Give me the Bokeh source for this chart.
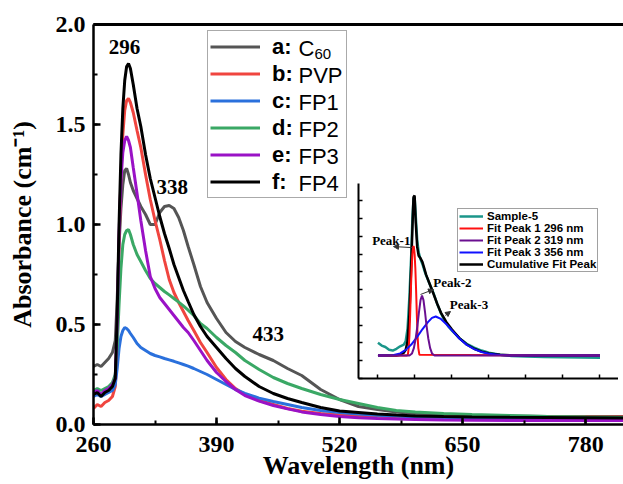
from bokeh.plotting import figure
from bokeh.layouts import column
from bokeh.models import (Legend, LegendItem, LinearAxis, FixedTicker, SingleIntervalTicker,
                          Range1d, Arrow, NormalHead, PrintfTickFormatter, CustomJSTickFormatter)
from bokeh.core.properties import value
from bokeh.embed import file_html
from bokeh.resources import INLINE

# ---------------- main data ----------------
wl = [260, 264, 268, 272, 276, 280, 283, 285, 287, 289, 291, 293, 295, 297, 299, 302, 306, 310,
      315, 320, 325, 330, 335, 340, 345, 350, 355, 360, 366, 373, 380, 390, 400, 410, 420, 435,
      450, 465, 480, 500, 520, 540, 560, 580, 600, 630, 660, 700, 740, 780, 820]

c60 = [0.29, 0.30, 0.29, 0.31, 0.33, 0.36, 0.42, 0.62, 0.90, 1.08, 1.20, 1.27, 1.28, 1.25, 1.21, 1.17,
       1.13, 1.09, 1.05, 1.00, 1.00, 1.06, 1.09, 1.095, 1.08, 1.035, 0.97, 0.89, 0.80, 0.69, 0.61,
       0.53, 0.46, 0.415, 0.385, 0.35, 0.32, 0.28, 0.245, 0.175, 0.125, 0.09, 0.075, 0.062, 0.055,
       0.048, 0.045, 0.042, 0.040, 0.040, 0.040]
pvp = [0.08, 0.10, 0.09, 0.11, 0.12, 0.14, 0.19, 0.45, 0.90, 1.25, 1.45, 1.57, 1.62, 1.63, 1.61, 1.56,
       1.47, 1.385, 1.25, 1.125, 1.02, 0.925, 0.82, 0.725, 0.66, 0.61, 0.565, 0.52, 0.47, 0.41, 0.36,
       0.285, 0.225, 0.18, 0.15, 0.12, 0.10, 0.08, 0.066, 0.055, 0.048, 0.044, 0.041, 0.039, 0.038,
       0.037, 0.037, 0.037, 0.038, 0.038, 0.038]
fp1 = [0.14, 0.15, 0.14, 0.15, 0.16, 0.17, 0.20, 0.28, 0.38, 0.44, 0.47, 0.485, 0.48, 0.47, 0.455,
       0.435, 0.405, 0.385, 0.37, 0.355, 0.345, 0.338, 0.33, 0.323, 0.316, 0.308, 0.30, 0.292, 0.28,
       0.265, 0.25, 0.225, 0.20, 0.175, 0.155, 0.132, 0.115, 0.10, 0.085, 0.07, 0.06, 0.052, 0.046,
       0.042, 0.038, 0.035, 0.033, 0.031, 0.030, 0.030, 0.030]
fp2 = [0.17, 0.18, 0.17, 0.18, 0.19, 0.21, 0.25, 0.38, 0.60, 0.78, 0.90, 0.95, 0.97, 0.975, 0.95, 0.90,
       0.85, 0.815, 0.77, 0.73, 0.705, 0.685, 0.665, 0.648, 0.63, 0.612, 0.593, 0.572, 0.545, 0.505,
       0.48, 0.435, 0.395, 0.36, 0.32, 0.275, 0.235, 0.205, 0.18, 0.15, 0.125, 0.105, 0.085, 0.07,
       0.062, 0.055, 0.05, 0.045, 0.04, 0.037, 0.035]
fp3 = [0.16, 0.17, 0.15, 0.17, 0.18, 0.20, 0.23, 0.50, 0.95, 1.22, 1.36, 1.42, 1.44, 1.42, 1.385,
       1.285, 1.155, 1.02, 0.87, 0.74, 0.68, 0.635, 0.605, 0.575, 0.545, 0.515, 0.485, 0.46, 0.42,
       0.37, 0.32, 0.26, 0.215, 0.175, 0.145, 0.117, 0.095, 0.078, 0.063, 0.05, 0.04, 0.034, 0.03,
       0.027, 0.025, 0.022, 0.021, 0.02, 0.02, 0.02, 0.02]
fp4 = [0.15, 0.16, 0.14, 0.16, 0.17, 0.19, 0.23, 0.55, 1.00, 1.35, 1.58, 1.72, 1.79, 1.805, 1.78, 1.70,
       1.58, 1.49, 1.35, 1.23, 1.135, 1.04, 0.955, 0.88, 0.80, 0.735, 0.67, 0.615, 0.55, 0.49, 0.44,
       0.385, 0.33, 0.28, 0.24, 0.19, 0.155, 0.13, 0.11, 0.085, 0.068, 0.06, 0.052, 0.047, 0.043,
       0.04, 0.038, 0.036, 0.035, 0.034, 0.033]

series_keys = ["a:", "b:", "c:", "d:", "e:", "f:"]
series_names = ["C", "PVP", "FP1", "FP2", "FP3", "FP4"]
series_vals = [c60, pvp, fp1, fp2, fp3, fp4]
series_colors = ["#555555", "#f0453f", "#2a70dc", "#3aa865", "#9a12c6", "#000000"]

peak_text = ["296", "338", "433"]
peak_wl = [296, 338, 433]
peak_label_y = [1.89, 1.19, 0.455]
peak_dx = [-3, 5, 11]

# ---------------- inset data ----------------
s5_x = [200, 210, 220, 230, 240, 250, 260, 270, 275, 280, 285, 290, 293, 296, 299, 302, 306, 310, 315,
        320, 325, 330, 340, 350, 360, 370, 380, 390, 400, 420, 440, 460, 480, 500, 530, 560, 600,
        650, 700, 750, 800]
s5_y = [0.50, 0.42, 0.38, 0.30, 0.28, 0.33, 0.40, 0.45, 0.55, 0.90, 1.80, 3.00, 4.00, 4.55, 4.60, 4.10,
        3.40, 3.05, 2.85, 2.72, 2.55, 2.40, 2.15, 1.90, 1.60, 1.33, 1.12, 0.96, 0.84, 0.63, 0.47,
        0.36, 0.28, 0.22, 0.16, 0.13, 0.11, 0.10, 0.09, 0.085, 0.08]
cum_x = [200, 250, 260, 270, 275, 280, 285, 290, 293, 296, 299, 302, 306, 310, 315, 320, 325, 330,
         340, 350, 360, 370, 385, 400, 420, 440, 460, 480, 500, 530, 560, 600, 800]
cum_y = [0.14, 0.14, 0.16, 0.22, 0.30, 0.55, 1.30, 2.70, 3.70, 4.60, 4.65, 3.90, 3.20, 2.95, 2.88,
         2.78, 2.60, 2.42, 2.15, 1.88, 1.60, 1.35, 1.08, 0.87, 0.63, 0.45, 0.33, 0.25, 0.20, 0.16,
         0.145, 0.14, 0.14]
p1_x = [200, 278, 281, 283, 285, 287, 289, 291, 293, 295, 296, 297, 299, 301, 303, 305, 307, 309, 312, 800]
p1_y = [0.14, 0.14, 0.17, 0.35, 0.70, 1.30, 2.00, 2.60, 3.00, 3.20, 3.22, 3.20, 3.00, 2.60, 2.00,
        1.30, 0.70, 0.35, 0.16, 0.14]
p2_x = [200, 285, 292, 297, 302, 307, 311, 315, 319, 323, 327, 331, 336, 341, 346, 353, 800]
p2_y = [0.14, 0.14, 0.20, 0.35, 0.62, 1.00, 1.38, 1.70, 1.83, 1.70, 1.38, 1.00, 0.62, 0.35, 0.20, 0.14, 0.14]
p3_x = [200, 240, 260, 275, 290, 305, 320, 335, 346, 356, 370, 385, 400, 420, 440, 460, 480, 500, 530, 560, 600, 800]
p3_y = [0.14, 0.15, 0.20, 0.30, 0.45, 0.65, 0.88, 1.08, 1.20, 1.24, 1.17, 1.02, 0.85, 0.62, 0.44,
        0.32, 0.24, 0.19, 0.155, 0.143, 0.14, 0.14]
inset_labels = ["Sample-5", "Fit Peak 1 296 nm", "Fit Peak 2 319 nm", "Fit Peak 3 356 nm",
                "Cumulative Fit Peak"]
inset_colors = ["#1b968a", "#ff1010", "#6a0f90", "#1010ff", "#000000"]
ann_text = ["Peak-1", "Peak-2", "Peak-3"]
ann_x = [236, 401, 446]
ann_y = [3.39, 2.2, 1.58]
arrow_start = [(293, 3.18), (315, 1.86), (382, 1.27)]
arrow_end = [(242, 3.21), (350, 2.00), (396, 1.38)]

SERIF = "Liberation Serif"
SANS = "Liberation Sans"

# ---------------- main figure ----------------
p = figure(width=623, height=484, x_range=Range1d(260, 820), y_range=Range1d(0, 2.0),
           output_backend="svg", toolbar_location=None,
           min_border_left=93, min_border_top=24, min_border_right=0, min_border_bottom=60)
p.xgrid.visible = False
p.ygrid.visible = False
p.outline_line_color = None
p.background_fill_color = "white"

p.xaxis.ticker = SingleIntervalTicker(interval=130, num_minor_ticks=2)
p.yaxis.ticker = SingleIntervalTicker(interval=0.5, num_minor_ticks=2)
p.yaxis.formatter = PrintfTickFormatter(format="%.1f")
p.xaxis.axis_label = "Wavelength (nm)"
p.yaxis.axis_label = "Absorbance (cm\u207b\u00b9)"
for ax in (p.xaxis[0], p.yaxis[0]):
    ax.axis_line_width = 2.5
    ax.axis_line_color = "black"
    ax.major_tick_line_width = 2.5
    ax.minor_tick_line_width = 2
    ax.major_tick_in = 7
    ax.major_tick_out = 0
    ax.minor_tick_in = 4
    ax.minor_tick_out = 0
    ax.major_label_text_font = SERIF
    ax.major_label_text_font_style = "bold"
    ax.major_label_text_font_size = "24px"
    ax.major_label_text_color = "black"
    ax.axis_label_text_font = SERIF
    ax.axis_label_text_font_style = "bold"
    ax.axis_label_text_font_size = "26px"
    ax.axis_label_text_color = "black"
p.xaxis.major_label_standoff = 12
p.xaxis.axis_label_standoff = -4
p.yaxis.major_label_standoff = 8
p.yaxis.axis_label_standoff = 16

top_axis = LinearAxis(ticker=FixedTicker(ticks=[]), axis_line_width=3, axis_line_color="black",
                      major_tick_in=0, major_tick_out=0, minor_tick_in=0, minor_tick_out=0,
                      major_label_standoff=0)
p.add_layout(top_axis, "above")

renderers = []
for vals, col in zip(series_vals, series_colors):
    r = p.line(wl, vals, line_color=col, line_width=3)
    renderers.append(r)

p.text(x=peak_wl, y=peak_label_y, text=peak_text, x_offset=peak_dx,
       text_font=value(SERIF), text_font_style="bold", text_font_size="21px",
       text_align="center", text_baseline="middle", text_color="black")

# legend names (regular weight) next to the bold keys, drawn under a transparent legend box
row_h = 27 / 200.0
name_x = 476.6
name_y = [1.8825 - row_h * i for i in range(len(series_names))]
p.text(x=[name_x] * len(series_names), y=name_y, text=series_names,
       text_font=value(SANS), text_font_size="22px", text_baseline="middle",
       text_align="left", text_color="black")
p.text(x=[name_x], y=[name_y[0]], text=["60"], x_offset=[16], y_offset=[6],
       text_font=value(SANS), text_font_size="15px", text_baseline="middle",
       text_align="left", text_color="black")

legend = Legend(items=[LegendItem(label=k, renderers=[r]) for k, r in zip(series_keys, renderers)],
                location=(114, 226), orientation="vertical",
                glyph_width=50, glyph_height=27, label_height=27, label_width=72,
                spacing=0, padding=2, margin=0, label_standoff=12,
                label_text_font=SANS, label_text_font_style="bold", label_text_font_size="22px",
                label_text_color="black", border_line_color="#555555", border_line_width=1.5,
                background_fill_alpha=0)
p.add_layout(legend, "center")

# ---------------- inset figure ----------------
IL = 93  # left border (kept equal to the main plot's, as the column aligns frames)
inset = figure(width=IL + 260, height=2 + 195 + 12, x_range=Range1d(147.4, 850),
               y_range=Range1d(-0.507, 4.986),
               output_backend="svg", toolbar_location=None,
               min_border_left=IL, min_border_right=0, min_border_top=2, min_border_bottom=12,
               styles={"position": "absolute", "left": f"{358 - IL}px", "top": "181px"})
inset.xgrid.visible = False
inset.ygrid.visible = False
inset.outline_line_color = None
inset.background_fill_alpha = 0
inset.border_fill_alpha = 0
inset.xaxis.ticker = SingleIntervalTicker(interval=100, num_minor_ticks=0)
inset.yaxis.ticker = SingleIntervalTicker(interval=0.5, num_minor_ticks=0)
blank = CustomJSTickFormatter(code="return ''")
for ax in (inset.xaxis[0], inset.yaxis[0]):
    ax.axis_line_width = 2
    ax.axis_line_color = "black"
    ax.major_tick_in = 4
    ax.major_tick_out = 0
    ax.major_tick_line_width = 1.5
    ax.minor_tick_in = 0
    ax.minor_tick_out = 0
    ax.formatter = blank
    ax.major_label_text_font_size = "8px"
    ax.major_label_standoff = 0

r_s5 = inset.line(s5_x, s5_y, line_color=inset_colors[0], line_width=2.5)
r_cum = inset.line(cum_x, cum_y, line_color=inset_colors[4], line_width=2.5)
r_p1 = inset.line(p1_x, p1_y, line_color=inset_colors[1], line_width=2)
r_p3 = inset.line(p3_x, p3_y, line_color=inset_colors[3], line_width=2)
r_p2 = inset.line(p2_x, p2_y, line_color=inset_colors[2], line_width=2)

inset_leg = Legend(items=[LegendItem(label=lab, renderers=[r]) for lab, r in
                          zip(inset_labels, [r_s5, r_p1, r_p2, r_p3, r_cum])],
                   location=(99, 106), glyph_width=24, glyph_height=12, label_height=12,
                   label_width=100, spacing=0, padding=1, margin=0, label_standoff=4,
                   label_text_font=SANS, label_text_font_style="bold", label_text_font_size="11.5px",
                   label_text_line_height=1.0,
                   label_text_color="black", border_line_color="#444444", border_line_width=1.5,
                   background_fill_color="white", background_fill_alpha=1)
inset.add_layout(inset_leg, "center")

inset.text(x=ann_x, y=ann_y, text=ann_text, text_font=value(SERIF), text_font_style="bold",
           text_font_size="13px", text_align="center", text_baseline="middle", text_color="black")
for (x0, y0), (x1, y1) in zip(arrow_start, arrow_end):
    inset.add_layout(Arrow(x_start=x0, y_start=y0, x_end=x1, y_end=y1, line_width=1,
                           line_color="#333333",
                           end=NormalHead(size=5, fill_color="#333333", line_color="#333333")))

layout = column(p, inset)
open("out.html", "w").write(file_html(layout, INLINE, "UV-Vis"))
